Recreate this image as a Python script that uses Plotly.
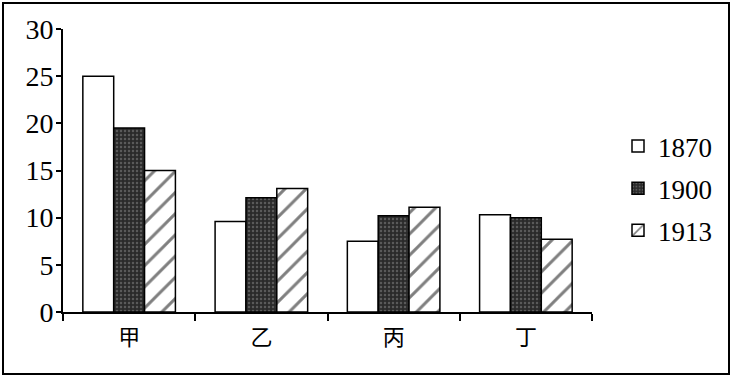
import plotly.graph_objects as go

categories = ["甲", "乙", "丙", "丁"]
years = ["1870", "1900", "1913"]
v1870 = [25.0, 9.6, 7.5, 10.3]
v1900 = [19.5, 12.1, 10.2, 10.0]
v1913 = [15.0, 13.1, 11.1, 7.7]
y_ticks = [0, 5, 10, 15, 20, 25, 30]

SERIF = "Liberation Serif"

series = [v1870, v1900, v1913]
styles = [
    dict(color="white", pattern=dict(shape="")),
    dict(color="#2a2a2a", pattern=dict(shape=".", fgcolor="#8a8a8a", size=4, solidity=0.3)),
    dict(color="white", pattern=dict(shape="/", fgcolor="black", size=15, solidity=0.2)),
]

fig = go.Figure()
for i, (yr, vals) in enumerate(zip(years, series)):
    fig.add_trace(go.Bar(
        x=categories, y=vals, name=yr, legendgroup=yr,
        marker=dict(color=styles[i]["color"], pattern=styles[i]["pattern"],
                    line=dict(color="black", width=1.5)),
    ))

W, H = 734, 379
L, R, T, B = 63, 142, 29, 67
pw, ph = W - L - R, H - T - B

def px(x):
    return (x - L) / pw

def py(y):
    return (H - B - y) / ph

fig.add_shape(type="rect", xref="paper", yref="paper",
              x0=px(3), x1=px(729), y0=py(374), y1=py(3),
              line=dict(color="black", width=2), layer="below")

fig.update_layout(
    width=W, height=H,
    margin=dict(l=L, r=R, t=T, b=B),
    paper_bgcolor="white", plot_bgcolor="white",
    barmode="group", bargap=0.3, bargroupgap=0,
    font=dict(family=SERIF, size=27, color="black"),
    legend=dict(x=px(618), y=py(122), xanchor="left", yanchor="top",
                traceorder="grouped", tracegroupgap=4,
                font=dict(family=SERIF, size=27),
                bgcolor="rgba(0,0,0,0)"),
)
fig.update_xaxes(
    showline=True, linecolor="black", linewidth=2,
    ticks="outside", tickson="boundaries", ticklen=7, tickcolor="black", tickwidth=1.5,
    tickfont=dict(family="Noto Sans CJK SC", size=22),
    ticklabelstandoff=5,
    showgrid=False, range=[-0.5, 3.5],
)
fig.update_yaxes(
    range=[0, 30], tickvals=y_ticks, showline=True, linecolor="black", linewidth=2,
    ticks="outside", ticklen=5, tickcolor="black", tickwidth=1.5,
    showgrid=False, zeroline=False,
    tickfont=dict(family=SERIF, size=28),
    ticklabelstandoff=-3,
)

fig.write_html("out.html")
